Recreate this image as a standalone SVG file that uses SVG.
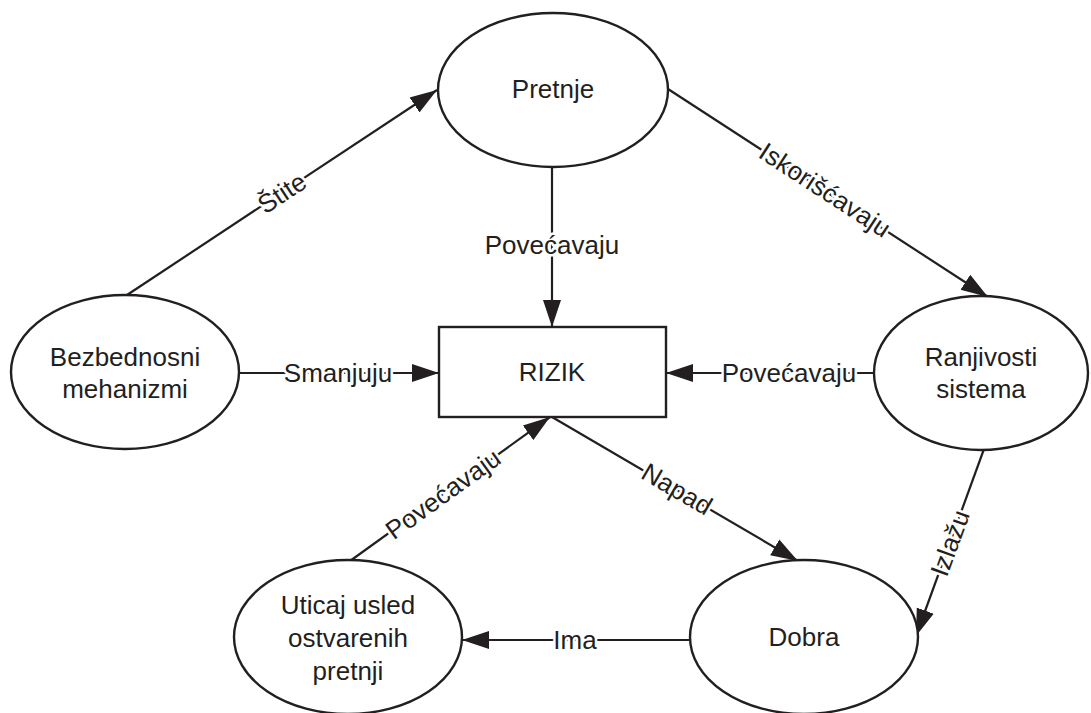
<svg xmlns="http://www.w3.org/2000/svg" width="1091" height="713" viewBox="0 0 1091 713">
  <style>
    .shape { fill: #ffffff; stroke: #231f20; stroke-width: 2.4; }
    .edge { fill: none; stroke: #231f20; stroke-width: 2.2; }
    .txt { font-family: "Liberation Sans", Arial, sans-serif; font-size: 26px; fill: #231f20; text-anchor: middle; }
    .lbl { font-family: "Liberation Sans", Arial, sans-serif; font-size: 26px; fill: #231f20; text-anchor: middle; stroke: #ffffff; stroke-width: 5; paint-order: stroke; stroke-linejoin: round; }
  </style>
  <defs>
    <marker id="arrow" markerUnits="userSpaceOnUse" markerWidth="27" markerHeight="20" refX="27" refY="10" orient="auto">
      <path d="M0,1 L27,10 L0,19 z" fill="#231f20"/>
    </marker>
  </defs>
  <rect width="1091" height="713" fill="#ffffff"/>

  <!-- connectors -->
  <g id="connectors">
    <path class="edge" d="M127,295 L437,90" marker-end="url(#arrow)"/>
    <path class="edge" d="M552,168 L552,327" marker-end="url(#arrow)"/>
    <path class="edge" d="M668,89 L988,297" marker-end="url(#arrow)"/>
    <path class="edge" d="M238,373 L439,373" marker-end="url(#arrow)"/>
    <path class="edge" d="M875,373 L666,373" marker-end="url(#arrow)"/>
    <path class="edge" d="M350,561 L550,417" marker-end="url(#arrow)"/>
    <path class="edge" d="M552,417 L798,561" marker-end="url(#arrow)"/>
    <path class="edge" d="M984,449 L916,636" marker-end="url(#arrow)"/>
    <path class="edge" d="M689,640 L462,640" marker-end="url(#arrow)"/>

    <text class="lbl" transform="translate(282,193) rotate(-33.5)" y="9">Štite</text>
    <text class="lbl" x="552" y="254">Povećavaju</text>
    <text class="lbl" transform="translate(825,190) rotate(33)" y="9">Iskorišćavaju</text>
    <text class="lbl" x="338" y="382">Smanjuju</text>
    <text class="lbl" x="789" y="382">Povećavaju</text>
    <text class="lbl" transform="translate(443,494) rotate(-35.75)" y="9">Povećavaju</text>
    <text class="lbl" transform="translate(677,489) rotate(30.3)" y="9">Napad</text>
    <text class="lbl" transform="translate(950,543) rotate(-70)" y="9">Izlažu</text>
    <text class="lbl" x="575" y="649">Ima</text>
  </g>

  <!-- nodes -->
  <g id="pretnje">
    <ellipse class="shape" cx="553" cy="90" rx="115" ry="77"/>
    <text class="txt" x="553" y="98">Pretnje</text>
  </g>
  <g id="bezbednosni-mehanizmi">
    <ellipse class="shape" cx="125" cy="372" rx="114" ry="77"/>
    <text class="txt" x="125" y="366">Bezbednosni</text>
    <text class="txt" x="125" y="398">mehanizmi</text>
  </g>
  <g id="rizik">
    <rect class="shape" x="439" y="327" width="227" height="90"/>
    <text class="txt" x="552" y="381">RIZIK</text>
  </g>
  <g id="ranjivosti-sistema">
    <ellipse class="shape" cx="981" cy="373" rx="107" ry="77"/>
    <text class="txt" x="981" y="366">Ranjivosti</text>
    <text class="txt" x="981" y="398">sistema</text>
  </g>
  <g id="uticaj">
    <ellipse class="shape" cx="348" cy="637" rx="114" ry="77"/>
    <text class="txt" x="348" y="614">Uticaj usled</text>
    <text class="txt" x="348" y="647">ostvarenih</text>
    <text class="txt" x="348" y="680">pretnji</text>
  </g>
  <g id="dobra">
    <ellipse class="shape" cx="804" cy="637" rx="114" ry="77"/>
    <text class="txt" x="804" y="646">Dobra</text>
  </g>
</svg>
